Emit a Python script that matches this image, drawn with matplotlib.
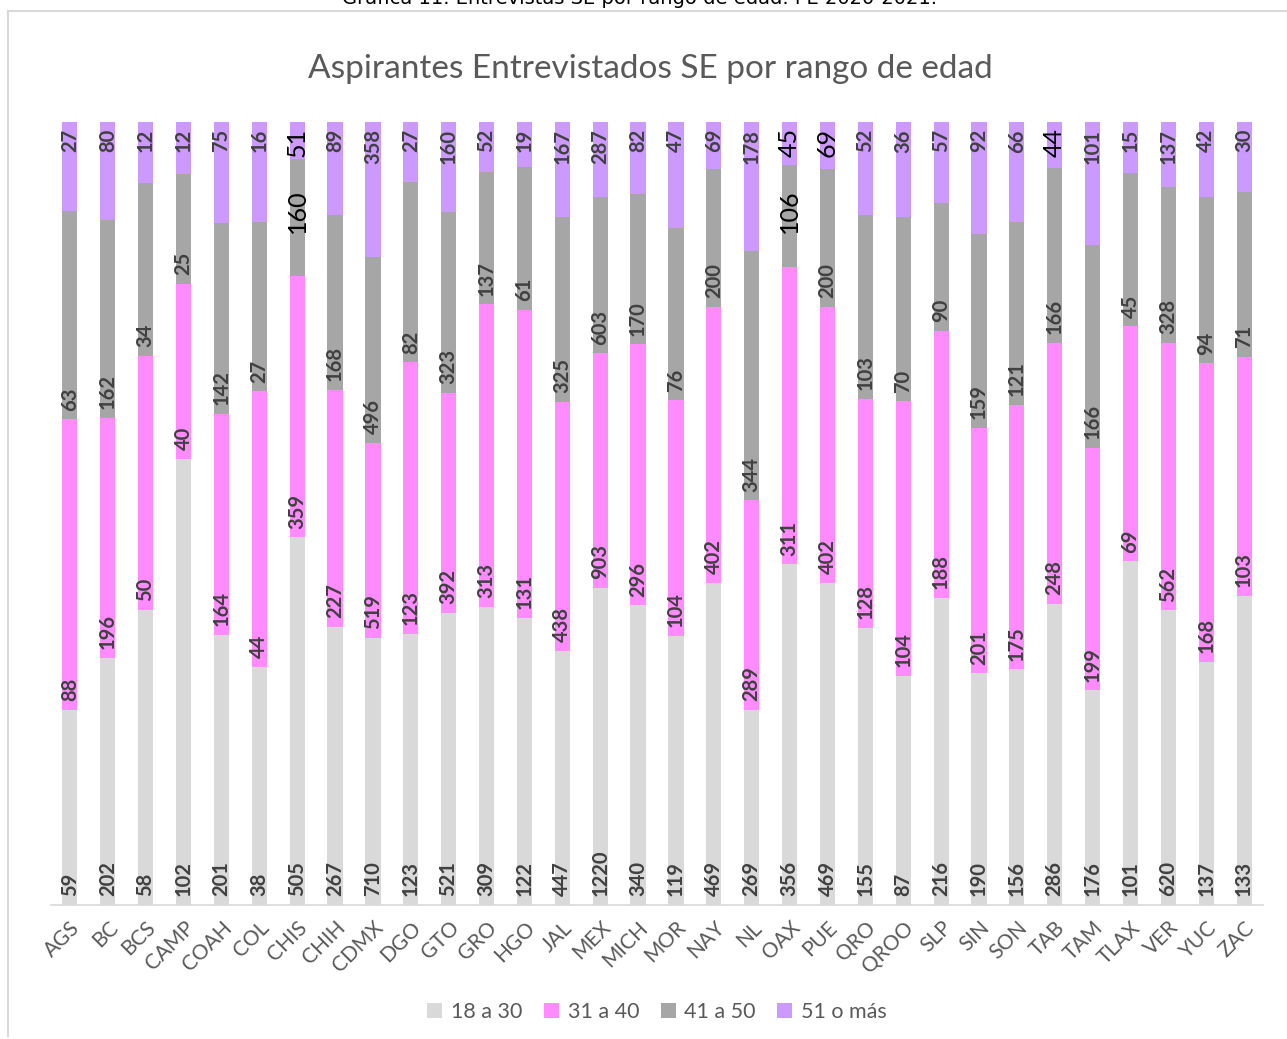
import numpy as np
import matplotlib.pyplot as plt
from matplotlib.lines import Line2D

estados = ['AGS', 'BC', 'BCS', 'CAMP', 'COAH', 'COL', 'CHIS', 'CHIH', 'CDMX', 'DGO',
           'GTO', 'GRO', 'HGO', 'JAL', 'MEX', 'MICH', 'MOR', 'NAY', 'NL', 'OAX',
           'PUE', 'QRO', 'QROO', 'SLP', 'SIN', 'SON', 'TAB', 'TAM', 'TLAX', 'VER',
           'YUC', 'ZAC']
r18_30 = [59, 202, 58, 102, 201, 38, 505, 267, 710, 123, 521, 309, 122, 447, 1220, 340,
          119, 469, 269, 356, 469, 155, 87, 216, 190, 156, 286, 176, 101, 620, 137, 133]
r31_40 = [88, 196, 50, 40, 164, 44, 359, 227, 519, 123, 392, 313, 131, 438, 903, 296,
          104, 402, 289, 311, 402, 128, 104, 188, 201, 175, 248, 199, 69, 562, 168, 103]
r41_50 = [63, 162, 34, 25, 142, 27, 160, 168, 496, 82, 323, 137, 61, 325, 603, 170,
          76, 200, 344, 106, 200, 103, 70, 90, 159, 121, 166, 166, 45, 328, 94, 71]
r51_mas = [27, 80, 12, 12, 75, 16, 51, 89, 358, 27, 160, 52, 19, 167, 287, 82,
           47, 69, 178, 45, 69, 52, 36, 57, 92, 66, 44, 101, 15, 137, 42, 30]
series = ['18 a 30', '31 a 40', '41 a 50', '51 o más']
colores = ['#D9D9D9', '#FF8BFF', '#A6A6A6', '#CC99FF']

# etiquetas editadas a mano en el original (negro, mas grandes)
especiales = {('CHIS', 2), ('CHIS', 3), ('OAX', 2), ('OAX', 3), ('PUE', 3), ('TAB', 3)}

plt.rcParams['font.family'] = ['Lato', 'DejaVu Sans']

datos = np.array([r18_30, r31_40, r41_50, r51_mas], dtype=float)
pct = datos / datos.sum(axis=0)
x = np.arange(len(estados))

fig = plt.figure(figsize=(12.87, 10.39), dpi=100)
ax = fig.add_axes([0.0396, 0.129, 0.9418, 0.7536])

base = np.zeros(len(estados))
for k in range(4):
    ax.bar(x, pct[k], 0.4, bottom=base, color=colores[k], label=series[k], zorder=2)
    for i in range(len(estados)):
        val = int(datos[k, i])
        if (estados[i], k) in especiales:
            if k == 3:
                y, va = base[i] + pct[k, i] - 0.008, 'top'
            else:
                y, va = base[i] + pct[k, i] * 0.55, 'center'
            ax.text(x[i], y, str(val), rotation=90, ha='center', va=va,
                    fontsize=18, color='black', zorder=3)
        elif k == 3:
            ax.text(x[i], base[i] + pct[k, i] - 0.009, str(val), rotation=90,
                    ha='center', va='top', fontsize=14.5, fontweight='bold',
                    color='#404040', zorder=3)
        else:
            ax.text(x[i], base[i] + 0.011, str(val), rotation=90,
                    ha='center', va='bottom', fontsize=14.5, fontweight='bold',
                    color='#404040', zorder=3)
    base += pct[k]

ax.set_xlim(-0.5, len(estados) - 0.5)
ax.set_ylim(0, 1)
ax.set_yticks([])
ax.set_xticks(x)
ax.set_xticklabels(estados, rotation=45, ha='right', rotation_mode='anchor',
                   fontsize=15, color='#595959')
ax.tick_params(axis='x', length=0, pad=9)
for s in ['top', 'right', 'left']:
    ax.spines[s].set_visible(False)
ax.spines['bottom'].set_color('#D9D9D9')
ax.spines['bottom'].set_linewidth(1.2)

fig.text(0.505, 0.934, 'Aspirantes Entrevistados SE por rango de edad',
         ha='center', va='center', fontsize=24, color='#595959')
fig.text(0.497, 1.002, 'Gráfica 11. Entrevistas SE por rango de edad. PE 2020-2021.',
         ha='center', va='center', fontsize=14, color='black', family='DejaVu Sans')

# marco del grafico
fig.add_artist(Line2D([8 / 1287, 1], [1 - 11 / 1039, 1 - 11 / 1039],
                      color='#D9D9D9', lw=1.5, transform=fig.transFigure))
fig.add_artist(Line2D([8 / 1287, 8 / 1287], [1 - 11 / 1039, 1 - 1036 / 1039],
                      color='#D9D9D9', lw=1.5, transform=fig.transFigure))

ax.legend(loc='center', bbox_to_anchor=(0.5, -0.137), ncol=4, frameon=False,
          fontsize=15.5, labelcolor='#595959', handlelength=0.7, handleheight=0.7,
          handletextpad=0.4, columnspacing=1.0)

fig.savefig('out.png', dpi=100)
